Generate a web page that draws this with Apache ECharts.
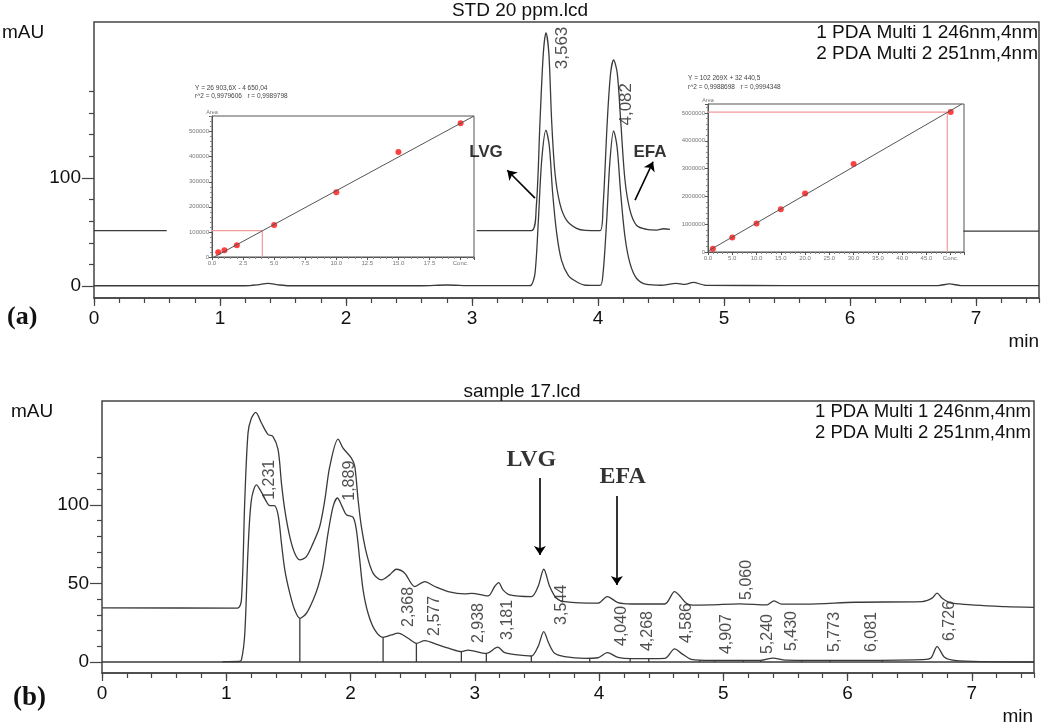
<!DOCTYPE html>
<html>
<head>
<meta charset="utf-8">
<title>STD 20 ppm / sample 17 chromatograms</title>
<script src="https://cdn.jsdelivr.net/npm/echarts@6.0.0/dist/echarts.min.js"></script>
<style>
  html, body { margin: 0; padding: 0; background: #fff; }
  #chart { width: 1052px; height: 725px; }
</style>
</head>
<body>
<div id="chart"></div>
<script>
// ---------- (a) STD 20 ppm.lcd : [time (min), mAU] ----------
// null = stretch of channel 1 hidden behind the calibration insets
var stdCh1 = [
  [0, 51.2], [0.577, 51.2], [1.8, null], [3.037, 51.2], [3.47, 51.2], [3.51, 73], [3.54, 153],
  [3.566, 215], [3.587, 234], [3.61, 215], [3.632, 153], [3.659, 104], [3.698, 76], [3.75, 61],
  [3.83, 53.3], [3.9, 51.4], [4.016, 51.2], [4.04, 73], [4.074, 153], [4.1, 196.6], [4.124, 208.9],
  [4.153, 196.6], [4.18, 153], [4.214, 98], [4.254, 70], [4.307, 56], [4.386, 52.4], [4.466, 51.8],
  [4.52, 53], [4.571, 52.4], [5.7, null], [6.9, 50.8], [7.5, 50.8]
];
var stdCh2 = [
  [0, 0.3], [1.2, 0.3], [1.3, 1.2], [1.38, 2.5], [1.46, 1.2], [1.55, 0.3], [2.6, 0.3], [2.8, 1],
  [3.0, 0.4], [3.45, 0.5], [3.47, 0.8], [3.5, 11.7], [3.527, 61], [3.553, 116], [3.587, 144],
  [3.614, 129], [3.64, 86], [3.672, 49], [3.71, 24], [3.764, 10], [3.83, 4], [3.9, 0.8],
  [4.016, 0.6], [4.04, 11.7], [4.069, 61], [4.095, 116], [4.124, 143.5], [4.151, 129], [4.18, 86],
  [4.214, 45.6], [4.254, 21], [4.307, 7], [4.386, 1.5], [4.5, 0.8], [4.62, 2.5], [4.69, 1.5],
  [4.756, 3.5], [4.85, 0.8], [5.5, 0.5], [6.7, 0.5], [6.79, 2], [6.88, 0.5], [7.5, 0.4]
];
var stdPeakText = ['3,563', '4,082'];
var stdPeakTextAt = [[3.714, 220], [4.222, 168]];
var stdCompound = ['LVG', 'EFA'];
var stdCompoundAt = [[3.111, 124], [4.413, 124]];
var stdArrows = [[[3.5, 81.3], [3.28, 107]], [[4.294, 79.5], [4.437, 114.9]]];

// calibration insets: concentration vs area
var lvgConc = [0.5, 1, 2, 5, 10, 15, 20];
var lvgArea = [18600, 26500, 46400, 127300, 258600, 419100, 533200];
var lvgFit = [[0.17, 0], [21.08, 562200]];
var lvgGuide = [[0, 104800], [4.05, 104800], [4.05, 0]];
var lvgConcTicks = ['0.0', '2.5', '5.0', '7.5', '10.0', '12.5', '15.0', '17.5', 'Conc.'];

var efaConc = [1, 5, 10, 15, 20, 30, 50];
var efaArea = [120000, 518000, 1024000, 1542000, 2108000, 3169000, 5036000];
var efaFit = [[0, 32000], [52.3, 5325000]];
var efaGuide = [[0, 5036000], [49.3, 5036000], [49.3, 0]];
var efaConcTicks = ['0.0', '5.0', '10.0', '15.0', '20.0', '25.0', '30.0', '35.0', '40.0', '45.0', 'Conc.'];

// ---------- (b) sample 17.lcd ----------
var sampleCh1 = [
  [0, 34.4], [1.09, 34.3], [1.122, 39.5], [1.149, 103], [1.175, 145.6], [1.202, 155], [1.237, 158.8],
  [1.283, 152], [1.337, 144.6], [1.375, 143.5], [1.417, 135], [1.444, 113.8], [1.471, 96.8],
  [1.511, 79.8], [1.551, 69.2], [1.592, 65], [1.645, 67], [1.699, 75.6], [1.752, 86.2], [1.793, 103],
  [1.833, 124.4], [1.9, 141.8], [1.94, 136], [2.007, 129.7], [2.034, 124.4], [2.061, 103],
  [2.087, 86.2], [2.128, 69.2], [2.181, 56.5], [2.248, 52.2], [2.315, 55.4], [2.369, 59],
  [2.436, 56.5], [2.517, 48], [2.597, 51.1], [2.678, 48], [2.785, 44.8], [2.919, 43.3],
  [2.975, 43.7], [3.105, 42], [3.16, 48], [3.192, 50.5], [3.227, 45.9], [3.281, 42.7], [3.455, 41.6],
  [3.509, 48], [3.555, 59], [3.603, 48], [3.656, 40.6], [3.723, 38.4], [3.991, 37.4], [4.066, 41.6],
  [4.152, 37.8], [4.259, 36.9], [4.528, 36.9], [4.608, 44.8], [4.65, 42], [4.7, 37.5], [4.75, 36.2],
  [4.9, 36.3], [5.13, 37], [5.35, 36.3], [5.408, 38.9], [5.47, 36.8], [5.66, 36.8], [6.065, 38],
  [6.6, 38.4], [6.68, 40.6], [6.72, 43.8], [6.76, 40.6], [6.84, 37.4], [7.27, 35.2], [7.5, 34.8]
];
var sampleCh2 = [
  [0.97, 0.2], [1.1, 0.3], [1.122, 1.3], [1.149, 18], [1.175, 71], [1.202, 103], [1.243, 112.7],
  [1.283, 108], [1.323, 102], [1.35, 99.4], [1.385, 99.4], [1.417, 93.6], [1.444, 75.6],
  [1.471, 58.6], [1.511, 43.8], [1.551, 33], [1.592, 27.8], [1.645, 31], [1.699, 39.5], [1.739, 48],
  [1.779, 60.7], [1.819, 82], [1.86, 99], [1.894, 104.3], [1.932, 99], [1.967, 93.6], [2.02, 92.1],
  [2.047, 84], [2.074, 65], [2.101, 45.9], [2.141, 31], [2.195, 20.4], [2.262, 15.7], [2.329, 17.2],
  [2.382, 18.3], [2.463, 15.1], [2.53, 11.9], [2.597, 13.6], [2.7, 11], [2.8, 8.5], [2.892, 6.6],
  [2.945, 7.5], [3.093, 5.5], [3.185, 9.4], [3.241, 5.9], [3.348, 4.5], [3.455, 3.8], [3.509, 9.8],
  [3.555, 19.3], [3.595, 11.9], [3.643, 5.5], [3.723, 3.4], [3.885, 2.3], [3.991, 2.7], [4.066, 5.9],
  [4.152, 3], [4.255, 2.1], [4.528, 2.3], [4.608, 8.3], [4.662, 5.5], [4.742, 1.7], [4.9, 1],
  [5.3, 1], [5.4, 2.5], [5.5, 1.2], [6.0, 1], [6.6, 1.5], [6.67, 2.5], [6.72, 9.8], [6.78, 3],
  [6.86, 1], [7.1, 0.2], [7.5, 0]
];
var sampleBaseline = [[0, 0], [7.5, 0]];
// integration marks: [time, height reached on channel 2]
var sampleDrops = [
  [1.592, 27.8], [2.262, 15.7], [2.53, 11.9], [2.892, 6.6], [3.093, 5.5], [3.455, 3.8], [3.925, 2.4],
  [4.25, 2.1], [4.4, 2.1], [4.81, 1.2], [4.93, 1.1], [5.16, 1], [5.3, 1], [5.63, 1.1], [5.86, 1], [6.28, 1.2]
];
var samplePeakText = ['1,231', '1,889', '2,368', '2,577', '2,938', '3,181', '3,544', '4,040', '4,268',
  '4,586', '4,907', '5,060', '5,240', '5,430', '5,773', '6,081', '6,726'];
var samplePeakTextAt = [[1.352, 115.9], [1.995, 115.3], [2.47, 35], [2.679, 29.3], [3.033, 24.8],
  [3.266, 26.8], [3.701, 36.3], [4.183, 22.9], [4.393, 19.7], [4.707, 24.8], [5.028, 17.8],
  [5.189, 52.2], [5.358, 17.8], [5.551, 19.7], [5.897, 19.1], [6.195, 19.1], [6.822, 26.1]];
var sampleCompound = ['LVG', 'EFA'];
var sampleCompoundAt = [[3.455, 128.5], [4.19, 117.7]];
var sampleArrows = [[[3.524, 117], [3.524, 68]], [[4.143, 105.5], [4.143, 49]]];

var timeTicks = [0, 1, 2, 3, 4, 5, 6, 7];
var stdMajor = [0, 100];
var stdMinor = [20, 40, 60, 80, 120, 140, 160, 180];
var sampleMajor = [0, 50, 100];
var sampleMinor = [10, 20, 30, 40, 60, 70, 80, 90, 110, 120, 130];

var SANS = '"Liberation Sans", Arial, sans-serif';
var SERIF = '"Liberation Serif", "Times New Roman", serif';
var INK = '#3a3a3a';

function pairs(xs, ys) {
  return xs.map(function (x, i) { return [x, ys[i]]; });
}
function named(texts, at) {
  return texts.map(function (t, i) { return { name: t, value: at[i] }; });
}
function arrowLines(list) {
  return list.map(function (a) { return [{ coord: a[0] }, { coord: a[1] }]; });
}
function onStep(v, step) {
  return Math.abs(v / step - Math.round(v / step)) < 1e-6;
}

function timeAxes(gridIndex) {
  return [{
    type: 'value', gridIndex: gridIndex, min: 0, max: 7.5, interval: 0.2, position: 'bottom',
    axisLine: { onZero: false, lineStyle: { color: '#444', width: 1.5 } },
    axisTick: { length: 5, lineStyle: { color: '#444', width: 1.2 } },
    axisLabel: { customValues: timeTicks, fontSize: 19, fontFamily: SANS, color: '#111', margin: 11 },
    splitLine: { show: false }
  }, {
    type: 'value', gridIndex: gridIndex, min: 0, max: 7.5, position: 'bottom',
    axisLine: { show: false, onZero: false },
    axisTick: { customValues: timeTicks, length: 8, lineStyle: { color: '#444', width: 1.2 } },
    axisLabel: { show: false },
    splitLine: { show: false }
  }];
}
function signalAxes(gridIndex, min, max, major, minor) {
  return [{
    type: 'value', gridIndex: gridIndex, min: min, max: max, position: 'left',
    axisLine: { show: false },
    axisTick: { show: true, customValues: major, length: 12, lineStyle: { color: '#444', width: 1.2 } },
    axisLabel: { customValues: major, fontSize: 19, fontFamily: SANS, color: '#111', margin: 13 },
    splitLine: { show: false }
  }, {
    type: 'value', gridIndex: gridIndex, min: min, max: max, position: 'left',
    axisLine: { show: false },
    axisTick: { show: true, customValues: minor, length: 5, lineStyle: { color: '#444', width: 1.2 } },
    axisLabel: { show: false },
    splitLine: { show: false }
  }];
}
function insetX(gridIndex, max, step, ticks) {
  return {
    type: 'value', gridIndex: gridIndex, min: 0, max: max, interval: step,
    axisLine: { onZero: false, lineStyle: { color: '#555', width: 1 } },
    axisTick: { length: 3, lineStyle: { color: '#555' } },
    minorTick: { show: true, splitNumber: 5, length: 2, lineStyle: { color: '#888' } },
    axisLabel: {
      fontSize: 6, fontFamily: SANS, color: '#777', margin: 3,
      formatter: function (v) { return onStep(v, step) ? (ticks[Math.round(v / step)] || '') : ''; }
    },
    splitLine: { show: false }
  };
}
function insetY(gridIndex, max, step) {
  return {
    type: 'value', gridIndex: gridIndex, min: 0, max: max, interval: step,
    name: 'Area', nameLocation: 'end', nameGap: 1,
    nameTextStyle: { fontSize: 5.5, fontFamily: SANS, color: '#777' },
    axisLine: { show: true, onZero: false, lineStyle: { color: '#555', width: 1 } },
    axisTick: { length: 3, lineStyle: { color: '#555' } },
    minorTick: { show: true, splitNumber: 5, length: 2, lineStyle: { color: '#888' } },
    axisLabel: {
      fontSize: 6, fontFamily: SANS, color: '#777', margin: 3,
      formatter: function (v) { return onStep(v, step) ? String(Math.round(v)) : ''; }
    },
    splitLine: { show: false }
  };
}
function trace(xi, yi, data, extra) {
  var s = {
    type: 'line', xAxisIndex: xi, yAxisIndex: yi, data: data, symbol: 'none', smooth: 0.3,
    connectNulls: false, silent: true, lineStyle: { color: INK, width: 1.3 }
  };
  return Object.assign(s, extra || {});
}
function arrows(list) {
  return {
    silent: true, symbol: ['none', 'arrow'], symbolSize: 9, label: { show: false },
    lineStyle: { color: '#000', width: 1.6, type: 'solid' }, data: arrowLines(list)
  };
}
function textMarks(xi, yi, data, label) {
  return {
    type: 'scatter', xAxisIndex: xi, yAxisIndex: yi, symbolSize: 0, silent: true, data: data,
    label: Object.assign({ show: true, position: 'inside', formatter: '{b}', align: 'center', verticalAlign: 'middle' }, label)
  };
}
function txt(x, y, text, font, align, color) {
  return {
    type: 'text', x: x, y: y, silent: true,
    style: { text: text, font: font, fill: color || '#111', textAlign: align || 'left', textVerticalAlign: 'middle' }
  };
}

var chart = echarts.init(document.getElementById('chart'));
var option = {
  animation: false,
  backgroundColor: '#fff',
  grid: [
    { left: 94, top: 22, right: 13, height: 276, show: true, borderColor: '#444', borderWidth: 1.5 },
    { left: 102, top: 401, right: 18, height: 272, show: true, borderColor: '#444', borderWidth: 1.5 },
    { left: 212, top: 116, width: 262, height: 141, show: true, borderColor: '#555', borderWidth: 1, backgroundColor: '#fff' },
    { left: 708, top: 104, width: 256, height: 148, show: true, borderColor: '#555', borderWidth: 1, backgroundColor: '#fff' }
  ],
  xAxis: timeAxes(0).concat(timeAxes(1), [insetX(2, 21.08, 2.5, lvgConcTicks), insetX(3, 52.74, 5, efaConcTicks)]),
  yAxis: signalAxes(0, -11, 244, stdMajor, stdMinor).concat(
    signalAxes(1, -7, 166, sampleMajor, sampleMinor),
    [insetY(2, 562200, 100000), insetY(3, 5325000, 1000000)]),
  series: [
    trace(0, 0, stdCh1, { markLine: arrows(stdArrows) }),
    trace(0, 0, stdCh2),
    textMarks(0, 0, named(stdPeakText, stdPeakTextAt), { rotate: 90, fontSize: 17, fontFamily: SANS, color: '#222' }),
    textMarks(0, 0, named(stdCompound, stdCompoundAt), { fontSize: 17, fontWeight: 'bold', fontFamily: SANS, color: '#000' }),

    trace(4, 4, lvgGuide, { smooth: false, lineStyle: { color: '#f39a9a', width: 1.2 } }),
    trace(4, 4, lvgFit, { smooth: false, lineStyle: { color: '#555', width: 1 } }),
    { type: 'scatter', xAxisIndex: 4, yAxisIndex: 4, data: pairs(lvgConc, lvgArea), symbolSize: 6, silent: true, itemStyle: { color: '#ff1010' } },
    trace(5, 5, efaGuide, { smooth: false, lineStyle: { color: '#f39a9a', width: 1.2 } }),
    trace(5, 5, efaFit, { smooth: false, lineStyle: { color: '#555', width: 1 } }),
    { type: 'scatter', xAxisIndex: 5, yAxisIndex: 5, data: pairs(efaConc, efaArea), symbolSize: 6, silent: true, itemStyle: { color: '#ff1010' } },

    trace(2, 2, sampleBaseline, { smooth: false }),
    trace(2, 2, sampleCh1, { markLine: arrows(sampleArrows) }),
    trace(2, 2, sampleCh2),
    {
      type: 'custom', xAxisIndex: 2, yAxisIndex: 2, data: sampleDrops, silent: true,
      renderItem: function (params, api) {
        var top = api.coord([api.value(0), api.value(1)]);
        var base = api.coord([api.value(0), 0]);
        return { type: 'line', shape: { x1: base[0], y1: base[1], x2: top[0], y2: top[1] }, style: { stroke: INK, lineWidth: 1.3 } };
      }
    },
    textMarks(2, 2, named(samplePeakText, samplePeakTextAt), { rotate: 90, fontSize: 16, fontFamily: SANS, color: '#222' }),
    textMarks(2, 2, named(sampleCompound, sampleCompoundAt), { fontSize: 24, fontWeight: 'bold', fontFamily: SERIF, color: '#000' })
  ],
  graphic: { elements: [
    txt(520, 11, 'STD 20 ppm.lcd', '19px ' + SANS, 'center'),
    txt(2, 33, 'mAU', '19px ' + SANS),
    txt(1038, 33, '1 PDA Multi 1 246nm,4nm', '19px ' + SANS, 'right'),
    txt(1038, 54, '2 PDA Multi 2 251nm,4nm', '19px ' + SANS, 'right'),
    txt(7, 317, '(a)', 'bold 26px ' + SERIF),
    txt(1039, 342, 'min', '19px ' + SANS, 'right'),
    txt(195, 88, 'Y = 26 903,6X - 4 650,04', '6.5px ' + SANS, 'left', '#444'),
    txt(195, 96.5, 'r^2 = 0,9979606   r = 0,9989798', '6.5px ' + SANS, 'left', '#444'),
    txt(688, 78, 'Y = 102 269X + 32 440,5', '6.5px ' + SANS, 'left', '#444'),
    txt(688, 87, 'r^2 = 0,9988698   r = 0,9994348', '6.5px ' + SANS, 'left', '#444'),

    txt(522, 392, 'sample 17.lcd', '19px ' + SANS, 'center'),
    txt(11, 412, 'mAU', '19px ' + SANS),
    txt(1031, 412, '1 PDA Multi 1 246nm,4nm', '18.5px ' + SANS, 'right'),
    txt(1031, 433, '2 PDA Multi 2 251nm,4nm', '18.5px ' + SANS, 'right'),
    txt(13, 698, '(b)', 'bold 27px ' + SERIF),
    txt(1033, 717, 'min', '19px ' + SANS, 'right')
  ] }
};
chart.setOption(option);
</script>
</body>
</html>
